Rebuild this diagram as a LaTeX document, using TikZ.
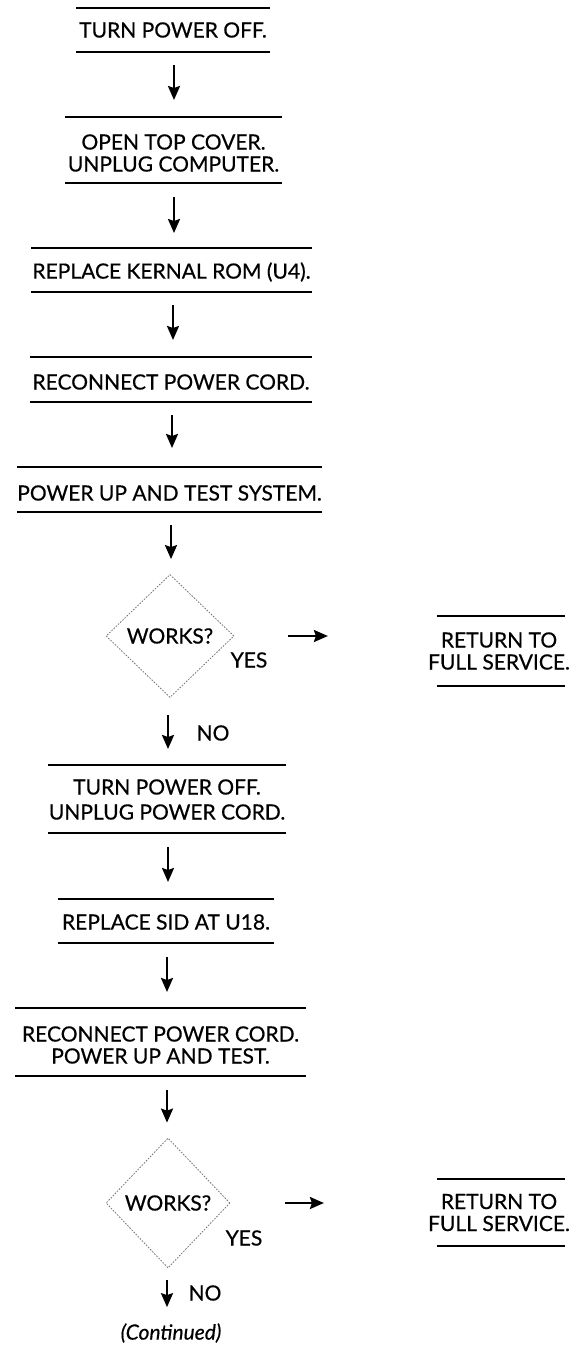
\documentclass[tikz,border=0pt]{standalone}
\usepackage{fontspec}
\setmainfont{Lato}[FakeBold=0.5]
\usetikzlibrary{shapes.geometric,arrows.meta}
\begin{document}
\begin{tikzpicture}[x=1pt,y=-1pt,
  txt/.style={font=\fontsize{21}{22}\selectfont, inner sep=0pt, align=center},
  rule/.style={line width=1.5pt, line cap=butt},
  arr/.style={line width=2.3pt, -{Stealth[length=14pt,width=12pt,inset=2pt]}},
  dec/.style={diamond, draw=black!55, dash pattern=on 1.6pt off 1.4pt, line width=0.8pt,
    inner sep=0pt, font=\fontsize{21}{22}\selectfont},
  lbl/.style={font=\fontsize{21}{22}\selectfont, inner sep=0pt},
]
\useasboundingbox (0,0) rectangle (576,1345);

% step boxes
\node[txt] (n1) at (173,30) {TURN POWER OFF.};
\node[txt] (n2) at (173.5,153) {OPEN TOP COVER.\\UNPLUG COMPUTER.};
\node[txt] (n3) at (171.5,272) {REPLACE KERNAL ROM (U4).};
\node[txt] (n4) at (171,382) {RECONNECT POWER CORD.};
\node[txt] (n5) at (169.5,493) {POWER UP AND TEST SYSTEM.};
\node[dec, minimum width=128pt, minimum height=123pt] (d1) at (170,636) {WORKS?};
\node[lbl] (yes1) at (249,660) {YES};
\node[txt] (r1) at (499,651) {RETURN TO\\FULL SERVICE.};
\node[lbl] (no1) at (213,733) {NO};
\node[txt, font=\fontsize{21}{25}\selectfont] (n6) at (167,799.5) {TURN POWER OFF.\\UNPLUG POWER CORD.};
\node[txt] (n7) at (166,922) {REPLACE SID AT U18.};
\node[txt] (n8) at (160.5,1045) {RECONNECT POWER CORD.\\POWER UP AND TEST.};
\node[dec, minimum width=124pt, minimum height=130pt] (d2) at (168,1203) {WORKS?};
\node[lbl] (yes2) at (244,1238) {YES};
\node[txt] (r2) at (499,1212.5) {RETURN TO\\FULL SERVICE.};
\node[lbl] (no2) at (205,1293) {NO};
\node[lbl, font=\fontsize{21}{22}\selectfont\itshape] (cont) at (171,1333) {(Continued)};

% rules above and below each step
\draw[rule] (76,8) -- (270,8) (76,52) -- (270,52);
\draw[rule] (65,117) -- (282,117) (65,183) -- (282,183);
\draw[rule] (31,248) -- (312,248) (31,292) -- (312,292);
\draw[rule] (30,357) -- (312,357) (30,402) -- (312,402);
\draw[rule] (17,467) -- (322,467) (17,512) -- (322,512);
\draw[rule] (437,616) -- (565,616) (437,686) -- (565,686);
\draw[rule] (48,765) -- (286,765) (48,833) -- (286,833);
\draw[rule] (58,899) -- (274,899) (58,943) -- (274,943);
\draw[rule] (15,1008) -- (306,1008) (15,1076) -- (306,1076);
\draw[rule] (437,1179) -- (565,1179) (437,1246) -- (565,1246);

% connector end points (at the rules)
\coordinate (b1) at (174,52);   \coordinate (t2) at (174,117);
\coordinate (b2) at (174,183);  \coordinate (t3) at (174,248);
\coordinate (b3) at (173,292);  \coordinate (t4) at (173,357);
\coordinate (b4) at (172,402);  \coordinate (t5) at (172,467);
\coordinate (b5) at (171,512);
\coordinate (t6) at (168,765);
\coordinate (b6) at (168,833);  \coordinate (t7) at (168,899);
\coordinate (b7) at (167,943);  \coordinate (t8) at (167,1008);
\coordinate (b8) at (167,1076);

\draw[arr, shorten <=13pt, shorten >=17pt] (b1) -- (t2);
\draw[arr, shorten <=14pt, shorten >=15pt] (b2) -- (t3);
\draw[arr, shorten <=13pt, shorten >=17pt] (b3) -- (t4);
\draw[arr, shorten <=13pt, shorten >=19pt] (b4) -- (t5);
\draw[arr, shorten <=13pt, shorten >=15pt] (b5) -- (b5 |- d1.north);
\draw[arr, shorten <=17pt, shorten >=16pt] (t6 |- d1.south) -- (t6);
\draw[arr, shorten <=14pt, shorten >=17pt] (b6) -- (t7);
\draw[arr, shorten <=14pt, shorten >=16pt] (b7) -- (t8);
\draw[arr, shorten <=14pt, shorten >=15pt] (b8) -- (b8 |- d2.north);
\draw[arr, shorten <=12pt, shorten >=16pt] (b8 |- d2.south) -- (cont.north -| b8);
\draw[arr, shorten <=54pt, shorten >=100pt] (d1.east) -- (r1.west |- d1.east);
\draw[arr, shorten <=55pt, shorten >=104pt] (d2.east) -- (r2.west |- d2.east);
\end{tikzpicture}
\end{document}
